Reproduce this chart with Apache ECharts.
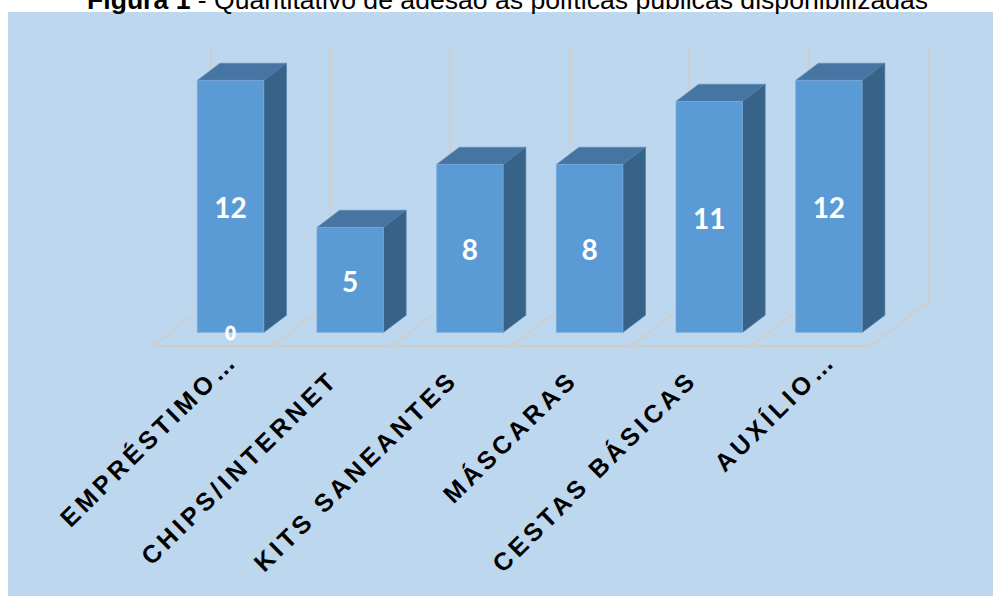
<!DOCTYPE html>
<html>
<head>
<meta charset="utf-8">
<style>
html,body{margin:0;padding:0;background:#fff}
#chart{width:993px;height:596px}
/* wide tracking on the rotated category names */
#chart text[style*="25px"]{letter-spacing:4px}
</style>
<script src="https://cdn.jsdelivr.net/npm/echarts@6/dist/echarts.min.js"></script>
</head>
<body>
<div id="chart"></div>
<script>
const categories = ['EMPRÉSTIMO…', 'CHIPS/INTERNET', 'KITS SANEANTES', 'MÁSCARAS', 'CESTAS BÁSICAS', 'AUXÍLIO…'];
const adesoes = [12, 5, 8, 8, 11, 12];
const zeros = [0, null, null, null, null, null];

// Pseudo-3D projection: how far the back wall sits from the front edge of the floor
const WALL_DX = 57.5, WALL_DY = 44;
const BAR_DX = 17.7, BAR_DY = 13.4, BAR_DEPTH_X = 22.7, BAR_DEPTH_Y = 17.2, BAR_RATIO = 0.556;
const GRID_LINE = '#CECECE';
// Rotated category names end just below the floor; the trailing ellipsis hangs past that point
const LABEL_DROP = 29, LABEL_SHIFT = 1, LABEL_ANGLE = 44.5 * Math.PI / 180, ELLIPSIS_HANG = 27;

const chart = echarts.init(document.getElementById('chart'), null, {renderer: 'svg'});

function renderFloor(params, api) {
  const band = api.size([1, 0])[0];
  const p = api.coord([api.value(0), 0]);
  const x = p[0] - band / 2, y = p[1];
  const seg = (x0) => ({
    type: 'line',
    shape: {x1: x0, y1: y, x2: x0 + WALL_DX, y2: y - WALL_DY},
    style: {stroke: GRID_LINE, lineWidth: 2}
  });
  const children = [seg(x)];
  if (params.dataIndex === categories.length - 1) children.push(seg(x + band));
  return {type: 'group', children};
}

function renderBar(params, api) {
  const band = api.size([1, 0])[0];
  const w = band * BAR_RATIO;
  const base = api.coord([api.value(0), 0]);
  const top = api.coord([api.value(0), api.value(1)]);
  const l = base[0] + BAR_DX - w / 2, r = l + w;
  const b = base[1] - BAR_DY, t = top[1] - BAR_DY;
  const dx = BAR_DEPTH_X, dy = BAR_DEPTH_Y;
  return {
    type: 'group',
    children: [
      {type: 'polygon', shape: {points: [[l, t], [l + dx, t - dy], [r + dx, t - dy], [r, t]]},
       style: {fill: '#4675A3', stroke: '#5F8BB8', lineWidth: 0.6}},
      {type: 'polygon', shape: {points: [[r, t], [r + dx, t - dy], [r + dx, b - dy], [r, b]]},
       style: {fill: '#386388', stroke: '#4F7BA3', lineWidth: 0.6}},
      {type: 'rect', shape: {x: l, y: t, width: w, height: b - t},
       style: {fill: '#5B9BD5', stroke: '#7FB0DF', lineWidth: 0.6}},
      {type: 'text', x: (l + r) / 2, y: (t + b) / 2 + 1,
       style: {text: String(api.value(1)), fill: '#fff', align: 'center', verticalAlign: 'middle',
               font: 'bold 28px Lato'}}
    ]
  };
}

function renderZero(params, api) {
  const v = api.value(1);
  if (isNaN(v)) return null;
  const p = api.coord([api.value(0), v]);
  return {
    type: 'text', x: p[0] + BAR_DX, y: p[1] - BAR_DY + 1,
    style: {text: String(v), fill: '#fff', stroke: '#fff', lineWidth: 0.8, align: 'center',
            verticalAlign: 'middle', font: 'bold 18px Lato'}
  };
}

function renderCategoryName(params, api) {
  const name = categories[api.value(0)];
  const p = api.coord([api.value(0), 0]);
  const hang = name.endsWith('…') ? ELLIPSIS_HANG : 0;
  return {
    type: 'text',
    x: p[0] + LABEL_SHIFT + hang * Math.cos(LABEL_ANGLE),
    y: p[1] + LABEL_DROP - hang * Math.sin(LABEL_ANGLE),
    rotation: LABEL_ANGLE,
    style: {text: name, fill: '#000', align: 'right', verticalAlign: 'middle',
            font: 'bold 25px "Liberation Sans"'}
  };
}

chart.setOption({
  animation: false,
  backgroundColor: '#fff',
  graphic: [{type: 'rect', z: -10, shape: {x: 8, y: 12, width: 985, height: 584},
             style: {fill: '#BDD7EE'}}],
  title: {
    left: 87, top: -14, padding: 0,
    text: '{b|Figura 1}{r| - Quantitativo de adesão às políticas públicas disponibilizadas}',
    textStyle: {
      rich: {
        b: {fontFamily: '"Liberation Sans"', fontWeight: 'bold', fontSize: 26.6, color: '#000'},
        r: {fontFamily: '"Liberation Sans"', fontWeight: 'normal', fontSize: 26.6, color: '#000'}
      }
    }
  },
  grid: [
    {left: 153, width: 718, top: 93.8, height: 252},
    {left: 210.5, width: 718, top: 48, height: 254}
  ],
  xAxis: [
    {
      gridIndex: 0, type: 'category', data: categories,
      axisLine: {lineStyle: {color: GRID_LINE, width: 2}},
      axisTick: {show: false},
      axisLabel: {show: false}
    },
    {
      gridIndex: 1, type: 'category', data: categories,
      axisLine: {show: false}, axisTick: {show: false}, axisLabel: {show: false},
      splitLine: {show: true, interval: 0, lineStyle: {color: GRID_LINE, width: 2}}
    }
  ],
  yAxis: [
    {gridIndex: 0, type: 'value', min: 0, max: 12, interval: 2, show: false},
    {gridIndex: 1, type: 'value', min: 0, max: 12, interval: 2, show: false}
  ],
  series: [
    {type: 'custom', xAxisIndex: 0, yAxisIndex: 0, z: 1, renderItem: renderFloor,
     data: categories.map((c, i) => [i, 0]), silent: true},
    {type: 'custom', name: 'Adesões', xAxisIndex: 0, yAxisIndex: 0, z: 3, renderItem: renderBar,
     data: adesoes.map((v, i) => [i, v])},
    {type: 'custom', name: 'Zero', xAxisIndex: 0, yAxisIndex: 0, z: 4, renderItem: renderZero,
     data: zeros.map((v, i) => [i, v === null ? NaN : v])},
    {type: 'custom', name: 'Categorias', xAxisIndex: 0, yAxisIndex: 0, z: 4, clip: false,
     renderItem: renderCategoryName, data: categories.map((c, i) => [i, 0]), silent: true}
  ]
});
</script>
</body>
</html>
